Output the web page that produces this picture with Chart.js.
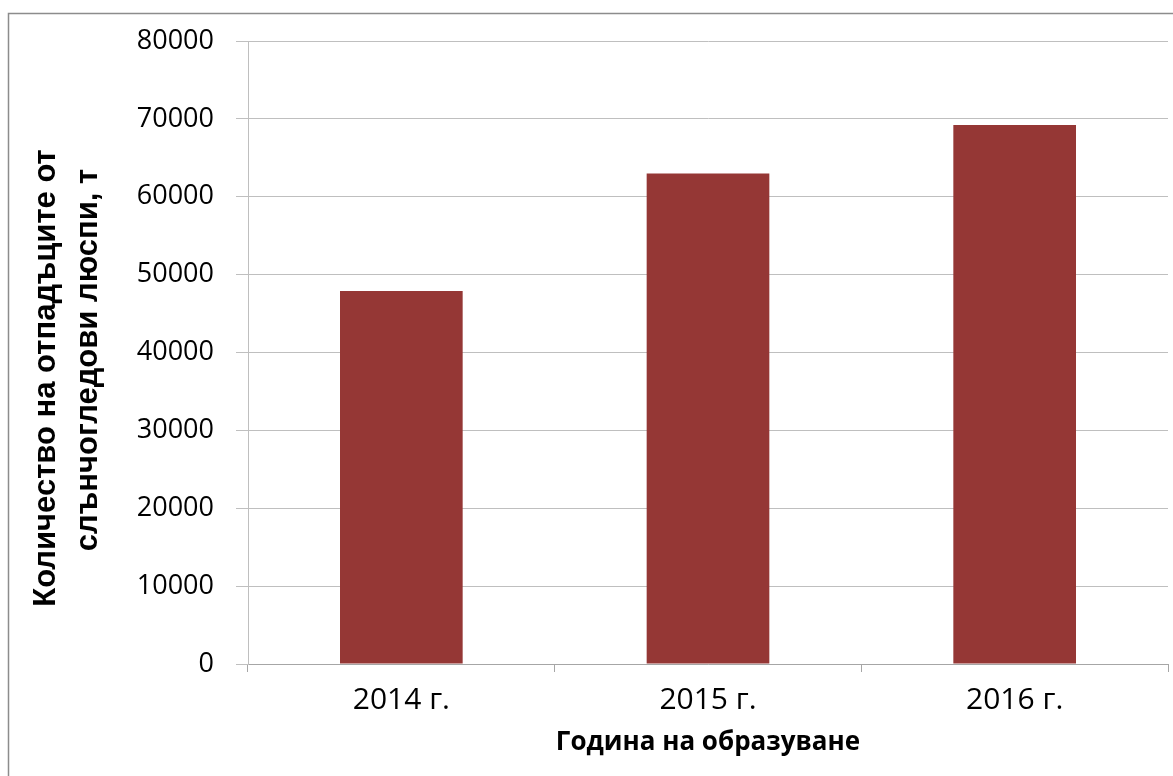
<!DOCTYPE html>
<html>
<head>
<meta charset="utf-8">
<script src="https://cdn.jsdelivr.net/npm/chart.js@4"></script>
<style>
  html, body { margin: 0; padding: 0; background: #ffffff; }
  #wrap { width: 1173px; height: 776px; position: relative; }
</style>
</head>
<body>
<div id="wrap"><canvas id="c" width="1173" height="776"></canvas></div>
<script>
const categories = ['2014 г.', '2015 г.', '2016 г.'];
const wasteValues = [47900, 63000, 69200];
const yTicks = [0, 10000, 20000, 30000, 40000, 50000, 60000, 70000, 80000];
const yTitle = ['Количество на отпадъците от', 'слънчогледови люспи, т'];
const xTitle = 'Година на образуване';

const frame = {
  id: 'frame',
  beforeDraw(chart) {
    const ctx = chart.ctx;
    ctx.save();
    ctx.fillStyle = '#ffffff';
    ctx.fillRect(0, 0, chart.width, chart.height);
    ctx.strokeStyle = '#8c8c8c';
    ctx.lineWidth = 1.5;
    ctx.strokeRect(8.5, 13.5, chart.width + 20, chart.height + 20);
    ctx.restore();
  },
  afterDraw(chart) {
    const ctx = chart.ctx;
    const centers = [378, 360];
    const baselines = [55, 97];
    ctx.save();
    ctx.fillStyle = '#000000';
    ctx.font = 'bold 31px "Liberation Sans", Arial, sans-serif';
    ctx.textAlign = 'center';
    ctx.textBaseline = 'alphabetic';
    yTitle.forEach((line, i) => {
      ctx.save();
      ctx.translate(baselines[i], centers[i]);
      ctx.rotate(-Math.PI / 2);
      ctx.fillText(line, 0, 0);
      ctx.restore();
    });
    ctx.restore();
  }
};

new Chart(document.getElementById('c'), {
  type: 'bar',
  data: {
    labels: categories,
    datasets: [{
      data: wasteValues,
      backgroundColor: '#953735',
      borderWidth: 0,
      barPercentage: 0.4,
      categoryPercentage: 1.0
    }]
  },
  options: {
    responsive: false,
    animation: false,
    devicePixelRatio: 1,
    layout: { padding: { left: 0, right: 5, top: 41, bottom: 0 } },
    plugins: { legend: { display: false }, tooltip: { enabled: false } },
    scales: {
      x: {
        offset: true,
        grid: { display: true, drawOnChartArea: false, drawTicks: true, tickLength: 8, offset: true, color: '#a6a6a6' },
        border: { display: true, color: '#a6a6a6', width: 1 },
        ticks: { color: '#000000', font: { family: 'Open Sans', size: 30 }, padding: 10, maxRotation: 0 },
        title: { display: true, text: xTitle, color: '#000000', font: { family: 'Open Sans', size: 26, weight: 'bold' }, padding: { top: 0, bottom: 18 } },
        afterFit(scale) { scale.height = 112; }
      },
      y: {
        min: 0,
        max: 80000,
        afterBuildTicks(scale) { scale.ticks = yTicks.map(v => ({ value: v })); },
        grid: { color: '#bfbfbf', tickLength: 12, drawTicks: true },
        border: { display: true, color: '#bfbfbf', width: 1 },
        ticks: { color: '#000000', font: { family: 'Open Sans', size: 27 }, padding: 22, callback: (v) => String(v) },
        title: { display: false },
        afterFit(scale) { scale.width = 248; }
      }
    }
  },
  plugins: [frame]
});
</script>
</body>
</html>
